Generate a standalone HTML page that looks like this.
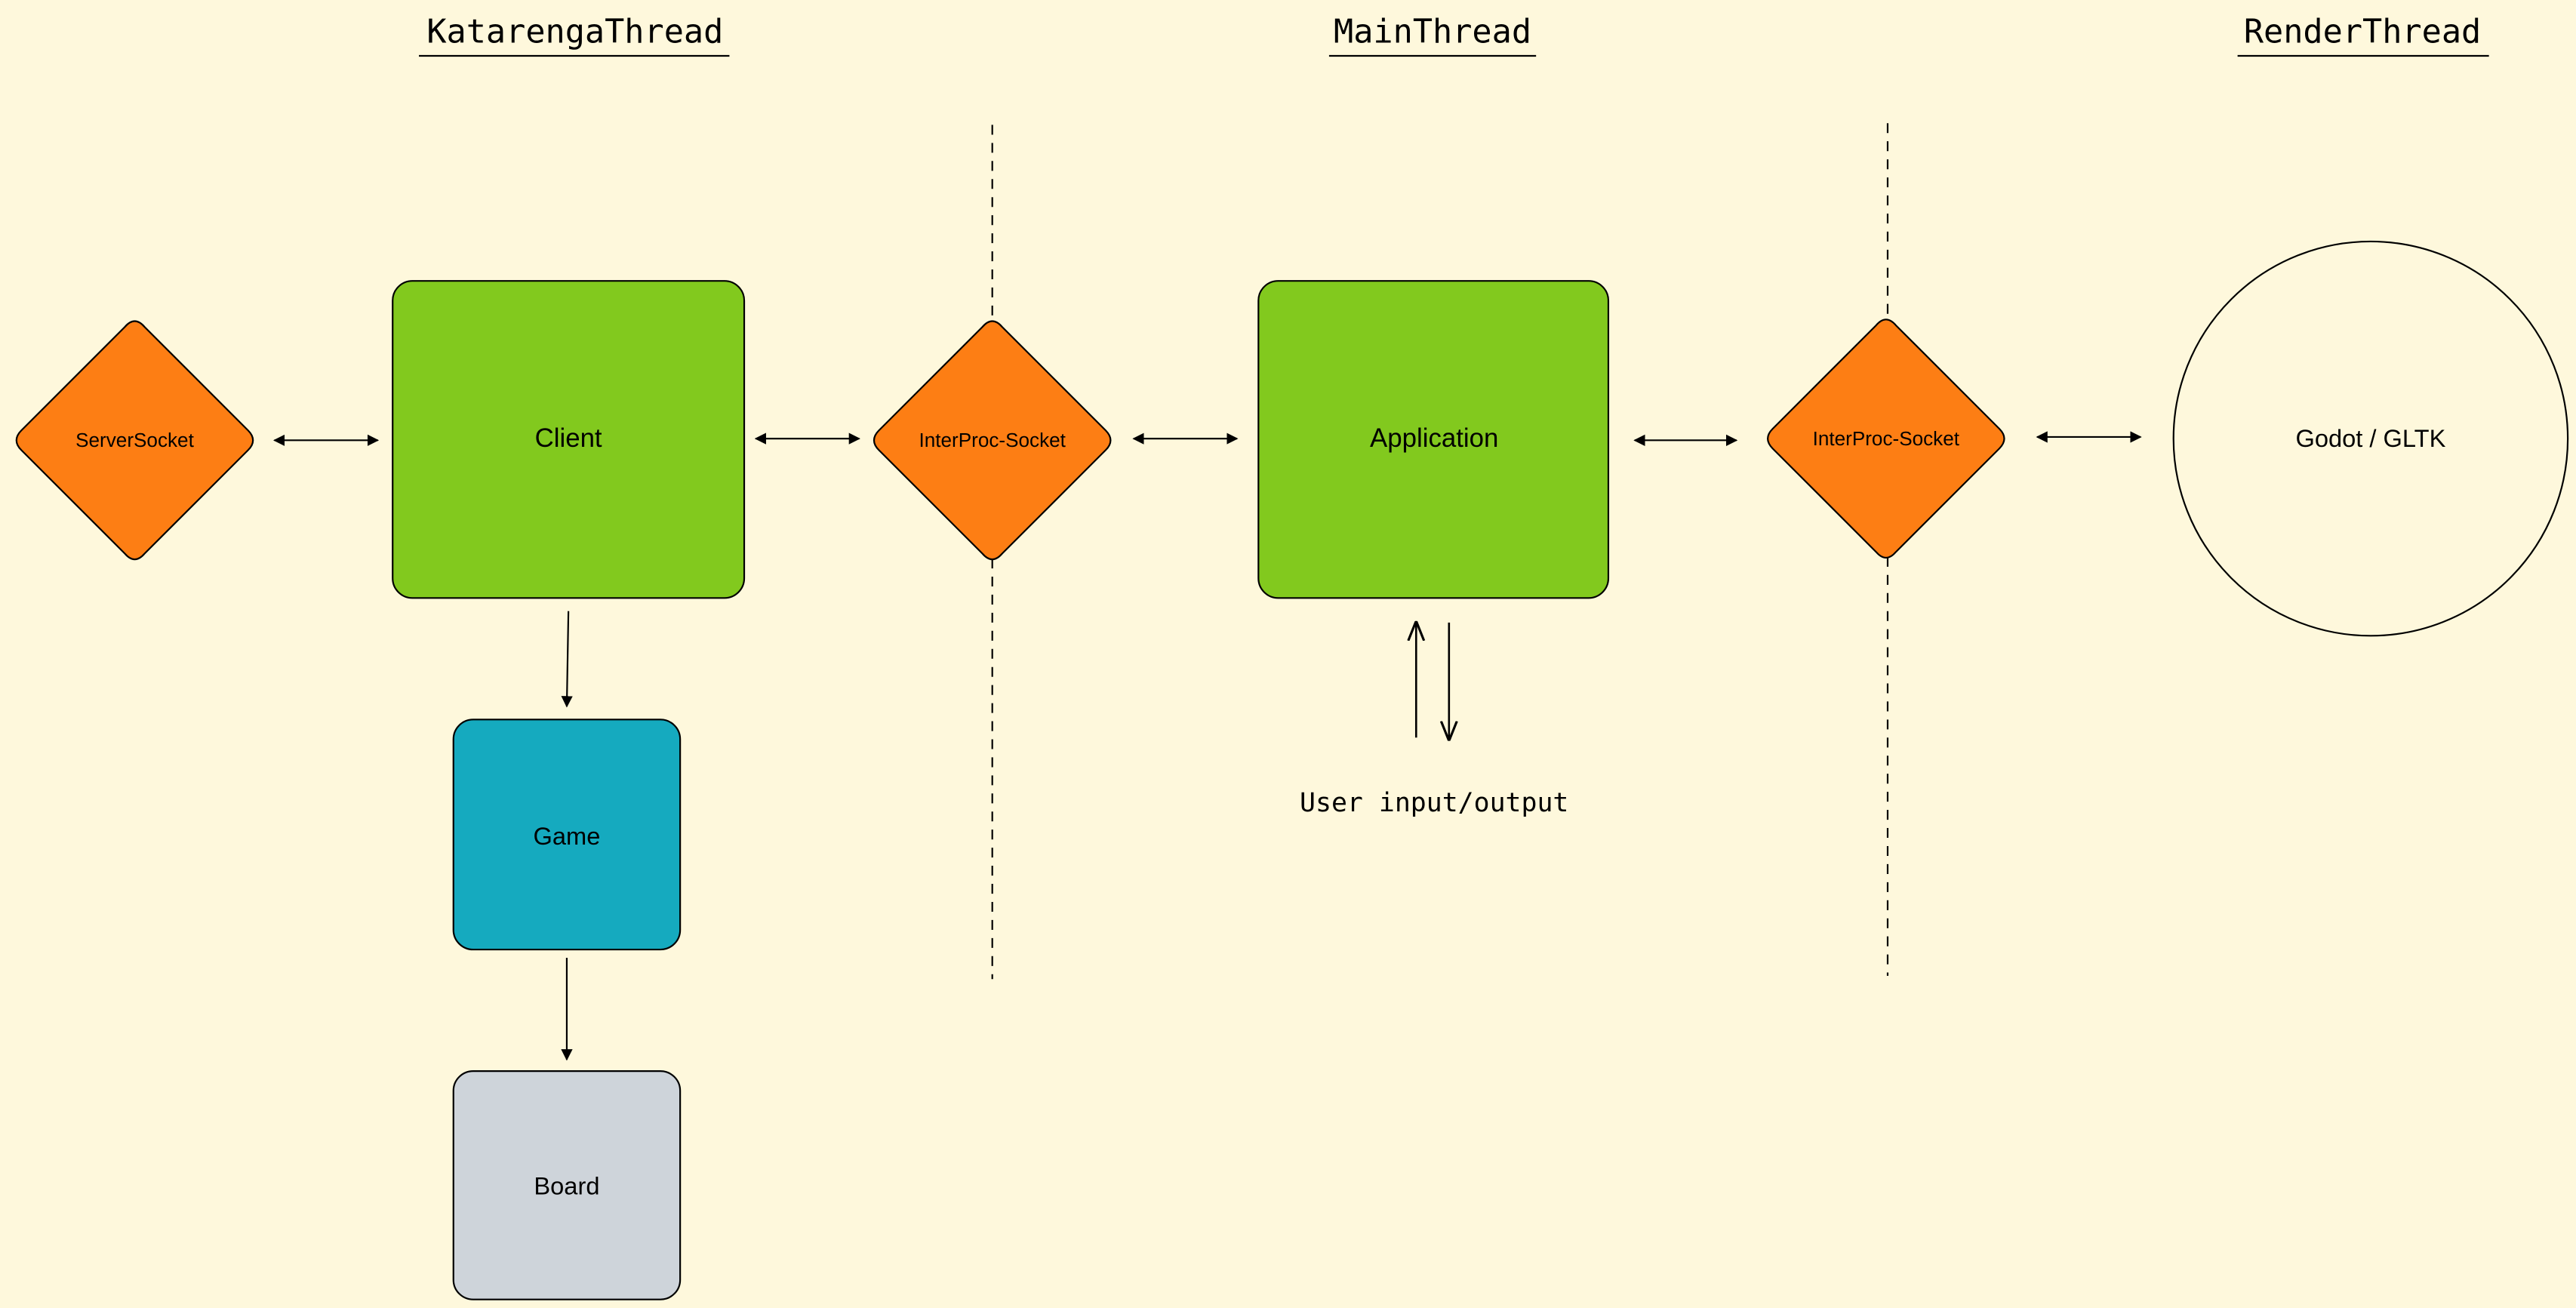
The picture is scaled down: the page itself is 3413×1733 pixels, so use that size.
<!DOCTYPE html>
<html><head><meta charset="utf-8"><style>
html,body{margin:0;padding:0;background:#fef8dc;}
svg{display:block;}
.h{font-family:"DejaVu Sans Mono","Liberation Mono",monospace;font-size:20px;fill:#000;}
.l{font-family:"Liberation Sans","DejaVu Sans",sans-serif;fill:#000;}
</style></head><body>
<svg width="3413" height="1733" viewBox="0 0 1568 796.2" preserveAspectRatio="none" xmlns="http://www.w3.org/2000/svg">
<defs>
<marker id="a" viewBox="0 0 10 10" refX="9" refY="5" markerWidth="7" markerHeight="7" orient="auto-start-reverse"><path d="M0,0 L10,5 L0,10 z" fill="#000"/></marker>
<marker id="o" viewBox="0 0 10 10" refX="10" refY="5" markerWidth="12" markerHeight="12" orient="auto" markerUnits="userSpaceOnUse"><path d="M0,1 L10,5 L0,9" fill="none" stroke="#000" stroke-width="1.2"/></marker>
</defs>
<rect width="1568" height="796.2" fill="#fef8dc"/>
<text class="h" x="350" y="26" text-anchor="middle">KatarengaThread</text>
<line x1="255" y1="34" x2="444" y2="34" stroke="#000" stroke-width="1"/>
<text class="h" x="872" y="26" text-anchor="middle">MainThread</text>
<line x1="809" y1="34" x2="935" y2="34" stroke="#000" stroke-width="1"/>
<text class="h" x="1438" y="26" text-anchor="middle">RenderThread</text>
<line x1="1362" y1="34" x2="1515" y2="34" stroke="#000" stroke-width="1"/>
<line x1="604" y1="76" x2="604" y2="596" stroke="#000" stroke-dasharray="6,5" stroke-width="1"/>
<line x1="1149" y1="75" x2="1149" y2="594" stroke="#000" stroke-dasharray="6,5" stroke-width="1"/>
<g fill="#fd7e14" stroke="#000" stroke-width="1">
<path transform="translate(82,268)" d="M-6,-69 Q0,-76 6,-69 L69,-6 Q75,0 69,6 L6,69 Q0,76 -6,69 L-69,6 Q-75,0 -69,-6 Z"/>
<path transform="translate(604,268)" d="M-6,-69 Q0,-76 6,-69 L69,-6 Q75,0 69,6 L6,69 Q0,76 -6,69 L-69,6 Q-75,0 -69,-6 Z"/>
<path transform="translate(1148,267)" d="M-6,-69 Q0,-76 6,-69 L69,-6 Q75,0 69,6 L6,69 Q0,76 -6,69 L-69,6 Q-75,0 -69,-6 Z"/>
</g>
<text class="l" x="82" y="272" font-size="12" text-anchor="middle">ServerSocket</text>
<text class="l" x="604" y="272" font-size="12" text-anchor="middle">InterProc-Socket</text>
<text class="l" x="1148" y="271" font-size="12" text-anchor="middle">InterProc-Socket</text>
<rect x="239" y="171" width="214" height="193" rx="12" fill="#82c91e" stroke="#000" stroke-width="1"/>
<text class="l" x="346" y="272" font-size="16" text-anchor="middle">Client</text>
<rect x="766" y="171" width="213" height="193" rx="12" fill="#82c91e" stroke="#000" stroke-width="1"/>
<text class="l" x="873" y="272" font-size="16" text-anchor="middle">Application</text>
<rect x="276" y="438" width="138" height="140" rx="12" fill="#15aabf" stroke="#000" stroke-width="1"/>
<text class="l" x="345" y="514" font-size="15" text-anchor="middle">Game</text>
<rect x="276" y="652" width="138" height="139" rx="12" fill="#ced4da" stroke="#000" stroke-width="1"/>
<text class="l" x="345" y="727" font-size="15" text-anchor="middle">Board</text>
<circle cx="1443" cy="267" r="120" fill="none" stroke="#000" stroke-width="1"/>
<text class="l" x="1443" y="272" font-size="15" text-anchor="middle">Godot / GLTK</text>
<g stroke="#000" stroke-width="1">
<line x1="167" y1="268" x2="230" y2="268" marker-start="url(#a)" marker-end="url(#a)"/>
<line x1="460" y1="267" x2="523" y2="267" marker-start="url(#a)" marker-end="url(#a)"/>
<line x1="690" y1="267" x2="753" y2="267" marker-start="url(#a)" marker-end="url(#a)"/>
<line x1="995" y1="268" x2="1057" y2="268" marker-start="url(#a)" marker-end="url(#a)"/>
<line x1="1240" y1="266" x2="1303" y2="266" marker-start="url(#a)" marker-end="url(#a)"/>
<line x1="346" y1="372" x2="345" y2="430" marker-end="url(#a)"/>
<line x1="345" y1="583" x2="345" y2="645" marker-end="url(#a)"/>
<line x1="862" y1="449" x2="862" y2="378" marker-end="url(#o)" stroke-width="1.2"/>
<line x1="882" y1="379" x2="882" y2="451" marker-end="url(#o)" stroke-width="1.2"/>
</g>
<text x="873" y="494" font-family="DejaVu Sans Mono,Liberation Mono,monospace" font-size="16" text-anchor="middle">User input/output</text>
</svg>
</body></html>
